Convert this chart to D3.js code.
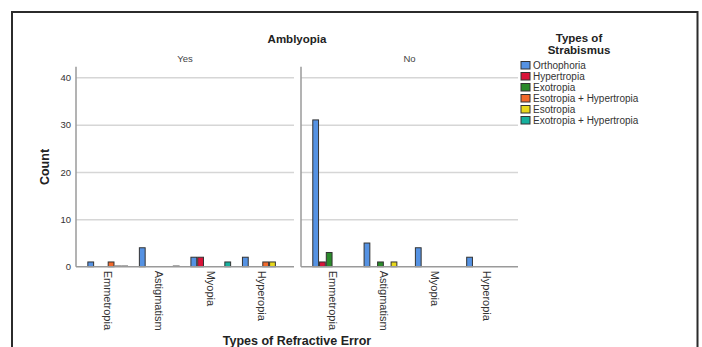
<!DOCTYPE html>
<html>
<head>
<meta charset="utf-8">
<script src="https://cdn.jsdelivr.net/npm/d3@7"></script>
<style>
  html, body { margin: 0; padding: 0; background: #fff; }
  svg { display: block; font-family: "Liberation Sans", Arial, sans-serif; }
</style>
</head>
<body>
<svg id="chart" width="702" height="347"></svg>
<script>
// ---- data ----
const categories = ["Emmetropia", "Astigmatism", "Myopia", "Hyperopia"];
const panels = ["Yes", "No"];
const seriesNames = ["Orthophoria", "Hypertropia", "Exotropia", "Esotropia + Hypertropia", "Esotropia", "Exotropia + Hypertropia"];
const seriesColors = ["#5592e3", "#d81439", "#2b8a2b", "#f2692b", "#e8d81c", "#16b09e"];
const yTicks = [0, 10, 20, 30, 40];

// counts per series, [Yes panel], [No panel]; null = no bar, 0 = zero-height bar
const orthophoriaYes = [1, 4, 2, 2];
const orthophoriaNo = [31, 5, 4, 2];
const hypertropiaYes = [null, null, 2, null];
const hypertropiaNo = [1, null, null, null];
const exotropiaYes = [null, null, null, null];
const exotropiaNo = [3, 1, null, null];
const esoHyperYes = [1, null, null, 1];
const esoHyperNo = [null, null, null, null];
const esotropiaYes = [0, null, null, 1];
const esotropiaNo = [null, 1, null, null];
const exoHyperYes = [0, 0, 1, null];
const exoHyperNo = [null, null, null, null];

const yesSeries = [orthophoriaYes, hypertropiaYes, exotropiaYes, esoHyperYes, esotropiaYes, exoHyperYes];
const noSeries = [orthophoriaNo, hypertropiaNo, exotropiaNo, esoHyperNo, esotropiaNo, exoHyperNo];
const panelData = [yesSeries, noSeries];

// ---- layout ----
const svg = d3.select("#chart");
const panelRanges = [[76, 294], [301, 518]];
const yTop = 66.7, yBottom = 266.7;
const y = d3.scaleLinear().domain([0, 42.24]).range([yBottom, yTop]);

// border
svg.append("rect").attr("x", 12).attr("y", 12).attr("width", 685.5).attr("height", 400)
  .attr("fill", "none").attr("stroke", "#2b2b2b").attr("stroke-width", 2);

// title
svg.append("text").attr("x", 297).attr("y", 43).attr("text-anchor", "middle")
  .attr("font-size", 11.5).attr("font-weight", "bold").attr("fill", "#222").text("Amblyopia");

// y-axis labels (shared)
const yAxisG = svg.append("g").attr("transform", `translate(${panelRanges[0][0]},0)`);
yAxisG.call(d3.axisLeft(y).tickValues(yTicks).tickSize(0).tickPadding(5).tickFormat(d3.format("d")));
yAxisG.select(".domain").remove();
yAxisG.selectAll("text").attr("font-size", 9.5).attr("fill", "#333")
  .attr("font-family", "Liberation Sans, Arial, sans-serif");

svg.append("text").attr("transform", `translate(49,167) rotate(-90)`).attr("text-anchor", "middle")
  .attr("font-size", 12.5).attr("font-weight", "bold").attr("fill", "#222").text("Count");

panels.forEach((p, pi) => {
  const [x0, x1] = panelRanges[pi];
  const x = d3.scaleBand().domain(categories).range([x0, x1]).paddingInner(0.21).paddingOuter(0.22);
  const xs = d3.scaleBand().domain(seriesNames).range([0, x.bandwidth()]);
  const g = svg.append("g");

  // gridlines
  const grid = g.append("g").attr("transform", `translate(${x0},0)`)
    .call(d3.axisLeft(y).tickValues(yTicks.filter(t => t > 0)).tickSize(-(x1 - x0)).tickFormat(""));
  grid.select(".domain").remove();
  grid.selectAll("line").attr("stroke", "#d6d6d6").attr("stroke-width", 1.5);

  // panel label
  g.append("text").attr("x", (x0 + x1) / 2).attr("y", 62).attr("text-anchor", "middle")
    .attr("font-size", 9.5).attr("fill", "#444").text(p);

  // bars
  const rows = [];
  panelData[pi].forEach((arr, si) => {
    arr.forEach((v, ci) => {
      if (v !== null) rows.push({ cat: categories[ci], s: seriesNames[si], color: seriesColors[si], v });
    });
  });
  g.selectAll("rect.bar").data(rows.filter(d => d.v > 0)).join("rect").attr("class", "bar")
    .attr("x", d => x(d.cat) + xs(d.s) + 0.5)
    .attr("width", xs.bandwidth() - 1)
    .attr("y", d => y(d.v))
    .attr("height", d => y(0) - y(d.v))
    .attr("fill", d => d.color).attr("stroke", "#333").attr("stroke-width", 1);
  g.selectAll("line.zero").data(rows.filter(d => d.v === 0)).join("line").attr("class", "zero")
    .attr("x1", d => x(d.cat) + xs(d.s)).attr("x2", d => x(d.cat) + xs(d.s) + xs.bandwidth())
    .attr("y1", y(0) - 0.5).attr("y2", y(0) - 0.5)
    .attr("stroke", "#666").attr("stroke-width", 1.5);

  // axis lines
  g.append("line").attr("x1", x0).attr("x2", x0).attr("y1", yTop).attr("y2", yBottom)
    .attr("stroke", "#9a9a9a").attr("stroke-width", 1.5);
  g.append("line").attr("x1", x0).attr("x2", x1).attr("y1", yBottom).attr("y2", yBottom)
    .attr("stroke", "#9a9a9a").attr("stroke-width", 1.5);

  // category labels
  const xa = g.append("g").attr("transform", `translate(0,${yBottom})`)
    .call(d3.axisBottom(x).tickSize(0).tickPadding(0));
  xa.select(".domain").remove();
  xa.selectAll("text")
    .attr("transform", d => `translate(${0},4) rotate(90)`)
    .attr("x", 0).attr("y", 0).attr("dy", "0.35em")
    .attr("text-anchor", "start")
    .attr("font-size", 11).attr("fill", "#333")
    .attr("font-family", "Liberation Sans, Arial, sans-serif");
});

// x-axis title
svg.append("text").attr("x", 297).attr("y", 345).attr("text-anchor", "middle")
  .attr("font-size", 12.5).attr("font-weight", "bold").attr("fill", "#222").text("Types of Refractive Error");

// legend
const lg = svg.append("g");
lg.append("text").attr("x", 579).attr("y", 42).attr("text-anchor", "middle")
  .attr("font-size", 11.5).attr("font-weight", "bold").attr("fill", "#222").text("Types of");
lg.append("text").attr("x", 579).attr("y", 54).attr("text-anchor", "middle")
  .attr("font-size", 11.5).attr("font-weight", "bold").attr("fill", "#222").text("Strabismus");
const ly = d3.scalePoint().domain(seriesNames).range([61.5, 116.5]);
const items = lg.selectAll("g.item").data(seriesNames).join("g").attr("class", "item")
  .attr("transform", d => `translate(521,${ly(d)})`);
items.append("rect").attr("width", 9).attr("height", 7.5)
  .attr("fill", (d, i) => seriesColors[i]).attr("stroke", "#333").attr("stroke-width", 1);
items.append("text").attr("x", 12).attr("y", 4).attr("dy", "0.35em")
  .attr("font-size", 10).attr("fill", "#333").text(d => d);
</script>
</body>
</html>
